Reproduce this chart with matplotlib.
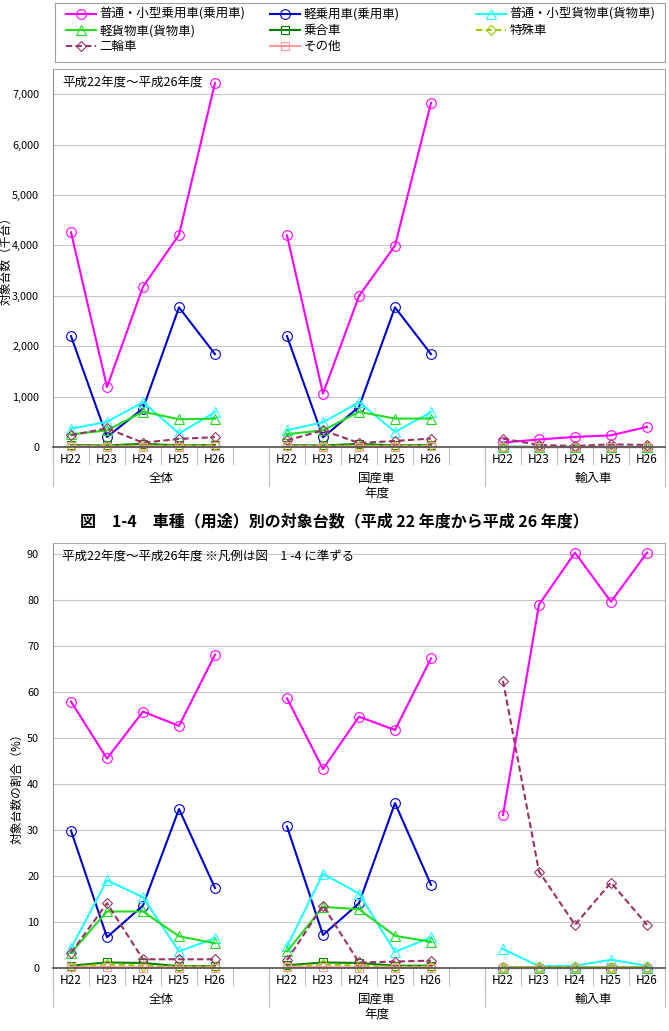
"""
車種（用途）別の対象台数と割合（平成22年度～平成26年度）を2段の折れ線で描く。
"""

import numpy as np
import matplotlib
matplotlib.use("Agg")
import matplotlib.pyplot as plt
from matplotlib.lines import Line2D
from matplotlib.patches import Rectangle

plt.rcParams.update({
    "font.family": ["Noto Sans CJK JP", "DejaVu Sans"],
    "font.size": 9,
    "axes.unicode_minus": False,
})

# ---------------------------------------------------------------------------
# データ（各系列: 全体 H22-H26, 国産車 H22-H26, 輸入車 H22-H26）
# ---------------------------------------------------------------------------
YEARS = ["H22", "H23", "H24", "H25", "H26"]
GROUPS = ["全体", "国産車", "輸入車"]

SERIES = ["普通・小型乗用車(乗用車)", "軽乗用車(乗用車)", "普通・小型貨物車(貨物車)",
          "軽貨物車(貨物車)", "乗合車", "特殊車", "二輪車", "その他"]

# 対象台数（千台）
CNT_FUTSU_JOYO = [4260, 1190, 3180, 4210, 7225, 4200, 1060, 2996, 3996, 6827, 90, 150, 200, 232, 400]
CNT_KEI_JOYO = [2200, 200, 763, 2771, 1843, 2200, 190, 795, 2771, 1843, 0, 0, 0, 0, 0]
CNT_FUTSU_KAMOTSU = [365, 500, 890, 270, 690, 335, 490, 890, 300, 690, 10, 1, 1, 5, 2]
CNT_KEI_KAMOTSU = [250, 330, 700, 551, 560, 255, 330, 696, 564, 564, 0, 0, 0, 0, 0]
CNT_NORIAI = [37, 31, 63, 32, 42, 36, 30, 62, 31, 41, 0, 0, 0, 0, 0]
CNT_TOKUSHU = [22, 21, 29, 24, 32, 21, 20, 28, 23, 31, 1, 1, 1, 1, 1]
CNT_NIRIN = [235, 370, 85, 160, 195, 130, 330, 80, 119, 167, 165, 40, 20, 54, 41]
CNT_SONOTA = [15, 5, 6, 8, 11, 14, 5, 6, 8, 10, 1, 0, 0, 0, 0]

# 対象台数の割合（%）
PCT_FUTSU_JOYO = [58.0, 45.6, 55.8, 52.7, 68.2, 58.7, 43.3, 54.7, 51.8, 67.4, 33.3, 79.1, 90.4, 79.7, 90.4]
PCT_KEI_JOYO = [29.9, 6.7, 13.6, 34.6, 17.4, 30.8, 7.2, 14.1, 35.9, 18.1, 0.0, 0.0, 0.0, 0.0, 0.0]
PCT_FUTSU_KAMOTSU = [4.3, 19.1, 15.4, 3.6, 6.5, 4.7, 20.5, 16.2, 3.5, 6.7, 4.1, 0.4, 0.5, 1.8, 0.5]
PCT_KEI_KAMOTSU = [3.3, 12.3, 12.3, 6.9, 5.4, 3.6, 13.3, 12.8, 7.0, 5.7, 0.0, 0.0, 0.0, 0.0, 0.0]
PCT_NORIAI = [0.5, 1.2, 1.1, 0.4, 0.4, 0.6, 1.2, 1.1, 0.5, 0.5, 0.1, 0.1, 0.1, 0.1, 0.1]
PCT_TOKUSHU = [0.3, 0.8, 0.5, 0.3, 0.3, 0.3, 0.8, 0.5, 0.3, 0.3, 0.2, 0.2, 0.2, 0.2, 0.2]
PCT_NIRIN = [3.3, 14.1, 1.9, 1.9, 1.9, 1.7, 13.6, 1.2, 1.4, 1.6, 62.5, 21.0, 9.4, 18.6, 9.4]
PCT_SONOTA = [0.2, 0.2, 0.1, 0.1, 0.1, 0.2, 0.2, 0.1, 0.1, 0.1, 0.0, 0.0, 0.0, 0.0, 0.0]

COUNTS = [CNT_FUTSU_JOYO, CNT_KEI_JOYO, CNT_FUTSU_KAMOTSU, CNT_KEI_KAMOTSU,
          CNT_NORIAI, CNT_TOKUSHU, CNT_NIRIN, CNT_SONOTA]
PCTS = [PCT_FUTSU_JOYO, PCT_KEI_JOYO, PCT_FUTSU_KAMOTSU, PCT_KEI_KAMOTSU,
        PCT_NORIAI, PCT_TOKUSHU, PCT_NIRIN, PCT_SONOTA]

# 系列ごとの見た目
COLORS = ["#FF00FF", "#0000CC", "#22FFFF", "#22DD22", "#008000", "#99CC00", "#993366", "#FF9999"]
MARKERS = ["o", "o", "^", "^", "s", "D", "D", "s"]
MSIZES = [7, 7, 7, 7, 6, 5, 5, 6]
STYLES = ["-", "-", "-", "-", "-", "--", "--", "-"]

W, H = 669, 1031
GAP_SLOTS = (5, 11)
N_SLOTS = 17
GRID_CLR = "#C8C8C8"
SEP_CLR = "#BBBBBB"


def with_gaps(vals):
    out = []
    for g in range(3):
        out += list(vals[g * 5:(g + 1) * 5])
        if g < 2:
            out.append(np.nan)
    return np.array(out, dtype=float)


def fig_rect(left, top, right, bottom):
    return [left / W, 1 - bottom / H, (right - left) / W, (bottom - top) / H]


def draw_panel(ax, data, ymax, step, ylabel, ylabel_px, yfmt, note):
    x = np.arange(N_SLOTS)
    for vals, c, m, ms, ls in zip(data, COLORS, MARKERS, MSIZES, STYLES):
        dash = dict(dashes=(3, 1.6)) if ls == "--" else {}
        ax.plot(x, with_gaps(vals), color=c, lw=1.5, ls=ls, marker=m, ms=ms,
                mfc="none", mec=c, mew=0.8, clip_on=False, **dash)

    ax.set_xlim(-0.5, N_SLOTS - 0.5)
    ax.set_ylim(0, ymax)
    ax.set_yticks(np.arange(0, ymax + 0.01, step))
    ax.yaxis.set_major_formatter(yfmt)
    ax.tick_params(axis="y", length=0, pad=10, labelsize=7.8)
    ax.set_xticks([])
    ax.grid(axis="y", color=GRID_CLR, lw=0.8)
    ax.set_axisbelow(True)
    for side in ("top", "right"):
        ax.spines[side].set_color("#A8A8A8")
        ax.spines[side].set_linewidth(0.8)
    ax.spines["left"].set_color("#909090")
    ax.spines["left"].set_linewidth(0.8)
    ax.spines["bottom"].set_color("#505050")
    ax.spines["bottom"].set_linewidth(1.2)

    h_px = ax.get_position().height * H
    tr = ax.get_xaxis_transform()

    # 区切り線（年度ごとの短線、区分ごとの長線）
    for b in np.arange(-0.5, N_SLOTS, 1.0):
        ax.add_line(Line2D([b, b], [0, -17 / h_px], transform=tr, color=SEP_CLR,
                           lw=0.8, clip_on=False))
    for b in (-0.5, 5.5, 11.5, N_SLOTS - 0.5):
        ax.add_line(Line2D([b, b], [0, -39 / h_px], transform=tr, color=SEP_CLR,
                           lw=0.8, clip_on=False))

    year_pos = [i for i in range(N_SLOTS) if i not in GAP_SLOTS]
    for i, p in enumerate(year_pos):
        ax.annotate(YEARS[i % 5], xy=(p, 0), xycoords=tr, xytext=(0, -12),
                    textcoords="offset pixels", ha="center", va="center", fontsize=8.5)
    group_mid = [2.5, 8.5, 14.5]
    for g, p in zip(GROUPS, group_mid):
        ax.annotate(g, xy=(p, 0), xycoords=tr, xytext=(0, -31),
                    textcoords="offset pixels", ha="center", va="center", fontsize=9)
    ax.annotate("年度", xy=(8.5, 0), xycoords=tr, xytext=(0, -46),
                textcoords="offset pixels", ha="center", va="center", fontsize=9)

    ax.text(0.015, 1 - 13 / h_px, note, transform=ax.transAxes, ha="left",
            va="center", fontsize=9)
    fig.text(ylabel_px[0] / W, 1 - ylabel_px[1] / H, ylabel, rotation=90,
             ha="center", va="center", fontsize=8.5)


fig = plt.figure(figsize=(W / 100, H / 100), dpi=100)
ax1 = fig.add_axes(fig_rect(53, 69, 665, 447))
ax2 = fig.add_axes(fig_rect(53, 543, 665, 968))

draw_panel(ax1, COUNTS, 7500, 1000, "対象台数（千台）", (6.5, 258),
           matplotlib.ticker.StrMethodFormatter("{x:,.0f}"), "平成22年度～平成26年度")
draw_panel(ax2, PCTS, 92.5, 10, "対象台数の割合（%）", (17, 786),
           matplotlib.ticker.StrMethodFormatter("{x:.0f}"),
           "平成22年度～平成26年度 ※凡例は図　1 -4 に準ずる")

# 凡例（3列、行方向の並び）
handles = [Line2D([], [], color=c, lw=1.5, ls=ls, marker=m, ms=ms, mfc="none",
                  mec=c, mew=0.8, **(dict(dashes=(3, 1.6)) if ls == "--" else {}))
           for c, m, ms, ls in zip(COLORS, MARKERS, MSIZES, STYLES)]
fig.patches.append(Rectangle((55 / W, 1 - 62 / H), 610 / W, 59 / H, transform=fig.transFigure,
                             fill=False, edgecolor="#A0A0A0", lw=0.8))
for col, x_px in enumerate((66, 270, 476)):
    idx = list(range(col, len(SERIES), 3))
    fig.legend([handles[i] for i in idx], [SERIES[i] for i in idx], loc="upper left",
               bbox_to_anchor=(x_px / W, 1 - 8 / H), frameon=False, fontsize=9,
               borderpad=0, borderaxespad=0, handlelength=2.4, handletextpad=0.3,
               labelspacing=0.25)

fig.text(0.5, 1 - 521 / H, "図　1-4　車種（用途）別の対象台数（平成 22 年度から平成 26 年度）",
         ha="center", va="center", fontsize=11.5, fontweight="bold")

fig.savefig("out.png", dpi=100)
